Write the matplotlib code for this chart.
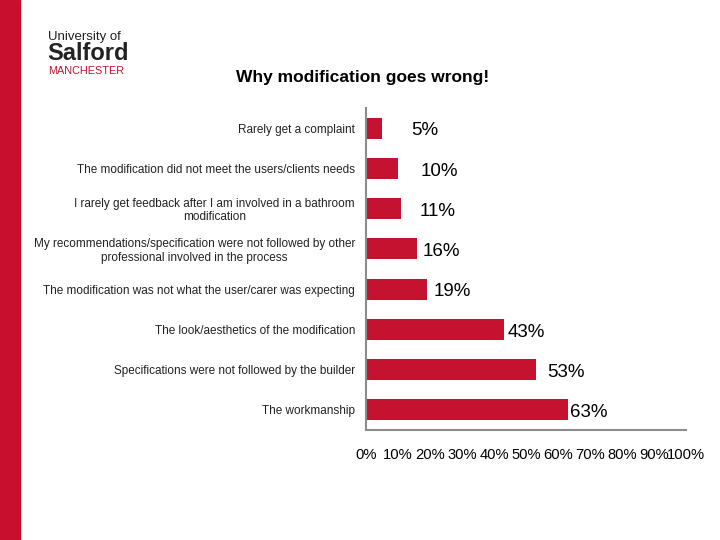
import matplotlib
matplotlib.use("Agg")
import matplotlib.pyplot as plt
from matplotlib.patches import Rectangle

plt.rcParams['font.family'] = ['Liberation Sans', 'DejaVu Sans']

categories = [
    "Rarely get a complaint",
    "The modification did not meet the users/clients needs",
    "I rarely get feedback after I am involved in a bathroom\nmodification",
    "My recommendations/specification were not followed by other\nprofessional involved in the process",
    "The modification was not what the user/carer was expecting",
    "The look/aesthetics of the modification",
    "Specifications were not followed by the builder",
    "The workmanship",
]
values = [5, 10, 11, 16, 19, 43, 53, 63]
tick_values = [0, 10, 20, 30, 40, 50, 60, 70, 80, 90, 100]
tick_labels = [f"{v}%" for v in tick_values]
title = "Why modification goes wrong!"

# label offsets (points) from bar end, style only
label_dx = [21, 16, 13, 4, 5, 3, 8, 2]

RED = "#C41230"

fig = plt.figure(figsize=(7.2, 5.4), dpi=100)
fig.patches.append(Rectangle((0, 0), 20/720, 1, transform=fig.transFigure,
                             color="#C8102E", zorder=0))

ax = fig.add_axes([366/720, 110/540, 320/720, 322/540])
n = len(categories)
ypos = list(range(n))
ax.barh(ypos, values, height=0.52, color=RED, zorder=2)
ax.set_ylim(n - 0.5, -0.5)
ax.set_xlim(0, 100)
ax.set_yticks(ypos)
ax.set_yticklabels(categories, fontsize=8.5, color='#222222')
for lab in ax.get_yticklabels():
    lab.set_multialignment('center')
    lab.set_linespacing(1.15)
ax.set_xticks(tick_values)
ax.set_xticklabels(tick_labels, fontsize=10.6)
ax.tick_params(axis='both', length=0)
ax.tick_params(axis='x', pad=13)
ax.tick_params(axis='y', pad=8)
for s in ['top', 'right']:
    ax.spines[s].set_visible(False)
for s in ['left', 'bottom']:
    ax.spines[s].set_color('#8c8c8c')
    ax.spines[s].set_linewidth(1.5)

for y, v, dx in zip(ypos, values, label_dx):
    ax.annotate(f"{v}%", xy=(v, y), xytext=(dx, -2), textcoords='offset points',
                ha='left', va='center', fontsize=13.5)

fig.text(363/720, 1 - 78/540, title, ha='center', va='center',
         fontsize=12.5, fontweight='bold')

# logo text
fig.text(48/720, 1 - 37/540, "University of", ha='left', va='center',
         fontsize=9.5, color='#222222')
fig.text(47/720, 1 - 54/540, "Salford", ha='left', va='center',
         fontsize=17, fontweight='bold', color='#222222')
fig.text(48/720, 1 - 71/540, "MANCHESTER", ha='left', va='center',
         fontsize=7.8, color=RED)

fig.savefig("out.png", dpi=100)
